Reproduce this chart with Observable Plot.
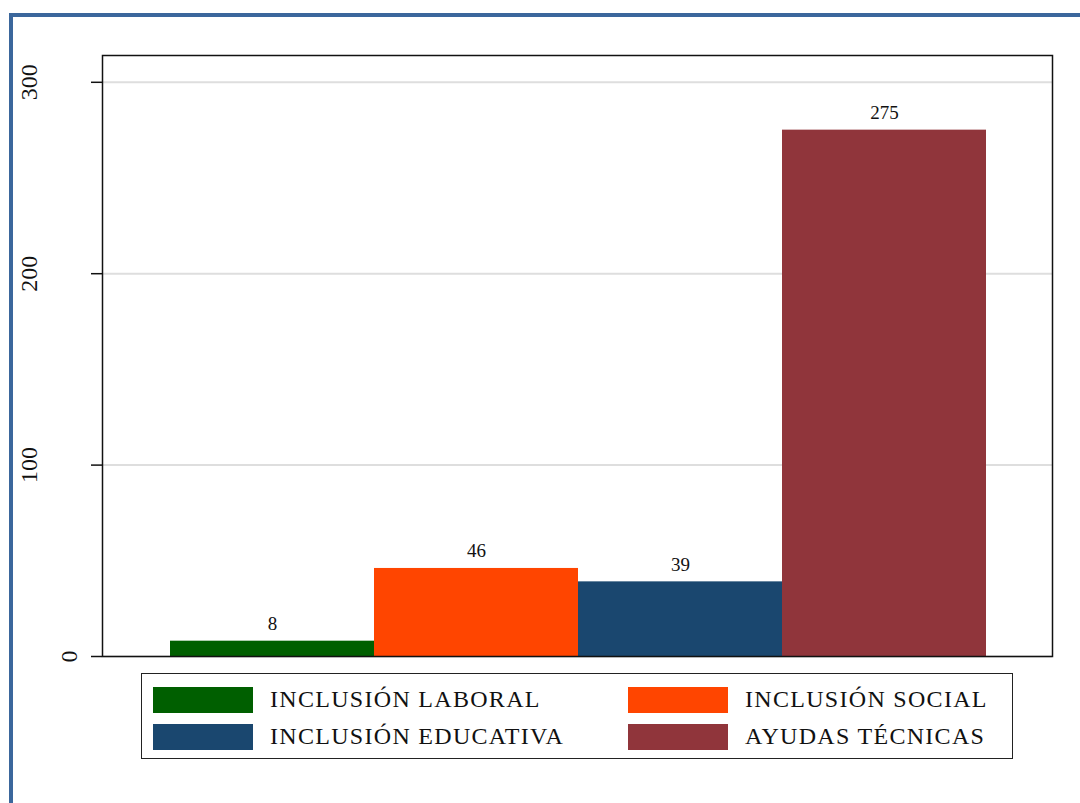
<!DOCTYPE html>
<html>
<head>
<meta charset="utf-8">
<script src="https://cdn.jsdelivr.net/npm/d3@7"></script>
<script src="https://cdn.jsdelivr.net/npm/@observablehq/plot@0.6"></script>
<style>
  html, body { margin: 0; padding: 0; background: #fff; }
  #wrap { position: relative; width: 1080px; height: 803px; overflow: hidden; font-family: "Liberation Serif", "DejaVu Serif", serif; }
  #border { position: absolute; left: 9px; top: 13px; width: 1080px; height: 800px; border-top: 4px solid #3b679c; border-left: 4px solid #3b679c; box-sizing: border-box; }
  #chart { position: absolute; left: 0; top: 0; }
  #legend { position: absolute; left: 141px; top: 673px; width: 872px; height: 86px; border: 1.5px solid #222; box-sizing: border-box; background: #fff; }
  .item { position: absolute; display: flex; align-items: center; font-size: 24px; letter-spacing: 1.3px; color: #111; white-space: nowrap; }
  .sw { width: 100px; height: 26px; margin-right: 17px; }
</style>
</head>
<body>
<div id="wrap">
  <div id="border"></div>
  <div id="chart"></div>
  <div id="legend"></div>
</div>
<script>
const categories = ["INCLUSIÓN LABORAL", "INCLUSIÓN SOCIAL", "INCLUSIÓN EDUCATIVA", "AYUDAS TÉCNICAS"];
const values = [8, 46, 39, 275];
const yTicks = [0, 100, 200, 300];
const palette = ["#005f00", "#ff4500", "#1a476f", "#90353b"];

const data = categories.map((c, i) => ({cat: c, value: values[i]}));

const chart = Plot.plot({
  width: 1080,
  height: 803,
  marginLeft: 102,
  marginRight: 28,
  marginTop: 55,
  marginBottom: 147,
  style: {fontFamily: "Liberation Serif", background: "transparent"},
  x: {domain: categories, padding: 0, insetLeft: 67, insetRight: 66, axis: null},
  y: {domain: [0, 314], axis: null},
  color: {domain: categories, range: palette},
  marks: [
    Plot.gridY(yTicks, {stroke: "#dedede", strokeOpacity: 1, strokeWidth: 2}),
    Plot.barY(data, {x: "cat", y: "value", fill: "cat"}),
    Plot.frame({stroke: "#111", strokeWidth: 1.5}),
    Plot.axisY({ticks: yTicks, tickSize: 11, tickFormat: () => "", label: null, stroke: "#111", strokeWidth: 1.5}),
    Plot.text(yTicks.filter(t => t !== 0), {y: d => d, text: d => String(d), frameAnchor: "left", dx: -73, rotate: -90, textAnchor: "middle", lineAnchor: "middle", fontSize: 24, fill: "#111"}),
    Plot.text(yTicks.filter(t => t === 0), {y: d => d, text: d => String(d), frameAnchor: "left", dx: -33, rotate: -90, textAnchor: "middle", lineAnchor: "middle", fontSize: 24, fill: "#111"}),
    Plot.text(data, {x: "cat", y: "value", text: d => String(d.value), lineAnchor: "bottom", dy: -11, fontSize: 19, fill: "#111"})
  ]
});
document.getElementById("chart").appendChild(chart);

const legend = document.getElementById("legend");
const pos = [[11, 12], [486, 12], [11, 49], [486, 49]];
const order = [0, 1, 2, 3];
order.forEach((i, k) => {
  const it = document.createElement("div");
  it.className = "item";
  it.style.left = pos[k][0] + "px";
  it.style.top = pos[k][1] + "px";
  it.innerHTML = `<div class="sw" style="background:${palette[i]}"></div><span>${categories[i]}</span>`;
  legend.appendChild(it);
});
</script>
</body>
</html>
